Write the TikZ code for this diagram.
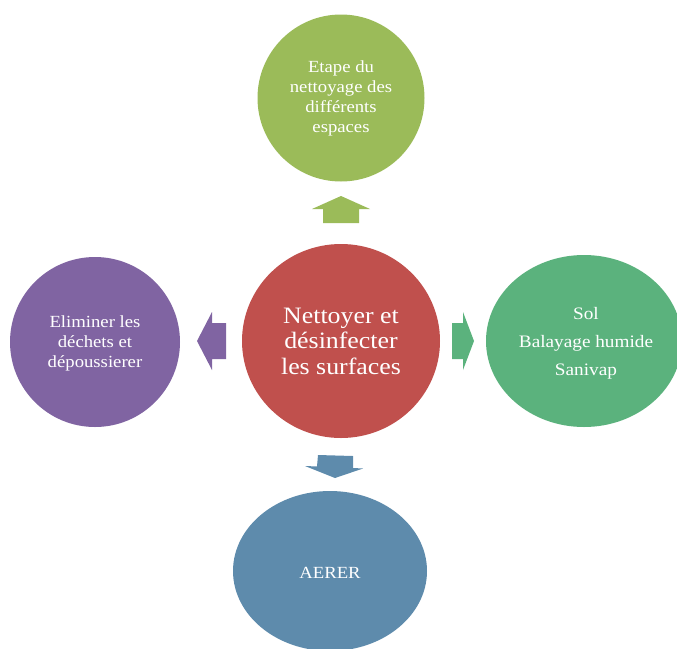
\documentclass[tikz,border=0pt]{standalone}
\usepackage{fontspec}
\setmainfont[FakeStretch=1.1]{Liberation Serif}
\definecolor{cgreen}{HTML}{9BBB59}
\definecolor{cred}{HTML}{C0504D}
\definecolor{cpurple}{HTML}{8064A2}
\definecolor{cteal}{HTML}{5BB27D}
\definecolor{cblue}{HTML}{5E8BAC}
\begin{document}
\begin{tikzpicture}[x=1pt,y=-1pt,
  txt/.style={text=white,align=center,font=\fontsize{17}{20}\selectfont}]
\useasboundingbox (0,0) rectangle (677,648);
\begin{scope}
\clip (0,0) rectangle (677,648);
\fill[cgreen] (341,98) circle (83.5);
\fill[cred] (341,341) circle [x radius=99, y radius=97];
\fill[cpurple] (95,342) circle (85);
\fill[cteal] (584,341) ellipse [x radius=98, y radius=86];
\fill[cblue] (330,571) ellipse [x radius=97, y radius=80];
\end{scope}
\node[txt] (top) at (341,98) {Etape du\\nettoyage des\\différents\\espaces};
\node[txt,font=\fontsize{23.5}{25.5}\selectfont] (ctr) at (341,341) {Nettoyer et\\désinfecter\\les surfaces};
\node[txt] (lft) at (95,343) {Eliminer les\\déchets et\\dépoussierer};
\node[txt,font=\fontsize{17.5}{28}\selectfont] (rgt) at (586,343) {Sol\\Balayage humide\\Sanivap};
\node[txt] (bot) at (330,573) {AERER};
% arrows
\fill[cgreen] (312,209) -- (341,196) -- (370,209) -- (359,209) -- (359,223) -- (323,223) -- (323,209) -- cycle;
\fill[cpurple] (197,341) -- (212,312) -- (212,323) -- (226,323) -- (226,359) -- (212,359) -- (212,370) -- cycle;
\fill[cteal] (474,341) -- (463,312) -- (463,323) -- (452,323) -- (452,359) -- (463,359) -- (463,370) -- cycle;
\fill[cblue] (335,478) -- (305,466) -- (317,466.5) -- (318,455) -- (353,456) -- (353,468) -- (363,468.5) -- cycle;
\end{tikzpicture}
\end{document}
